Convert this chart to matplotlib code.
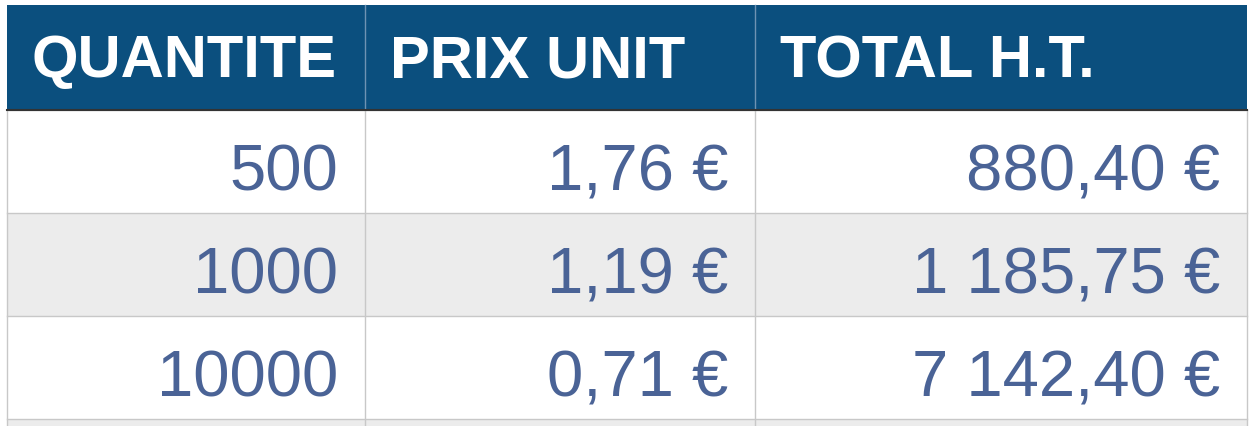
import matplotlib.pyplot as plt
from matplotlib.patches import Rectangle

headers = ['QUANTITE', 'PRIX UNIT', 'TOTAL H.T.']
quantities = ['500', '1000', '10000']
prices = ['1,76 €', '1,19 €', '0,71 €']
totals = ['880,40 €', '1 185,75 €', '7 142,40 €']

W, H = 1254, 426
col_edges = [7, 365, 755, 1247]
header_top, header_bot = 5, 110
row_h = 103
blue = '#0b4f7e'
text_blue = '#4a6396'
grid = '#c8c8c8'

fig = plt.figure(figsize=(W / 100, H / 100), dpi=100)
ax = fig.add_axes([0, 0, 1, 1])
ax.set_xlim(0, W)
ax.set_ylim(H, 0)
ax.axis('off')

# header band
ax.add_patch(Rectangle((col_edges[0], header_top), col_edges[-1] - col_edges[0],
                       header_bot - header_top, color=blue, lw=0))
for i, h in enumerate(headers):
    ax.text(col_edges[i] + 25, (header_top + header_bot) / 2 + 4, h, color='white',
            fontsize=43, fontweight='bold', family='Liberation Sans',
            ha='left', va='center')
for x in col_edges[1:-1]:
    ax.plot([x, x], [header_top, header_bot], color='#6f93b3', lw=1)

# body rows (plus the start of a fourth one)
rows = list(zip(quantities, prices, totals))
for r in range(4):
    top = header_bot + r * row_h
    fc = '#ececec' if r % 2 == 1 else 'white'
    ax.add_patch(Rectangle((col_edges[0], top), col_edges[-1] - col_edges[0], row_h,
                           facecolor=fc, edgecolor='none'))
    ax.plot([col_edges[0], col_edges[-1]], [top, top], color=grid, lw=1)
    if r < len(rows):
        for i, val in enumerate(rows[r]):
            ax.text(col_edges[i + 1] - 27, top + row_h / 2 + 12, val, color=text_blue,
                    fontsize=47, family='Liberation Sans', ha='right', va='center')

for x in col_edges:
    ax.plot([x, x], [header_bot, H], color=grid, lw=1)
ax.plot([col_edges[0], col_edges[-1]], [header_bot, header_bot], color='#333333', lw=1.5)

fig.savefig('out.png', dpi=100)
